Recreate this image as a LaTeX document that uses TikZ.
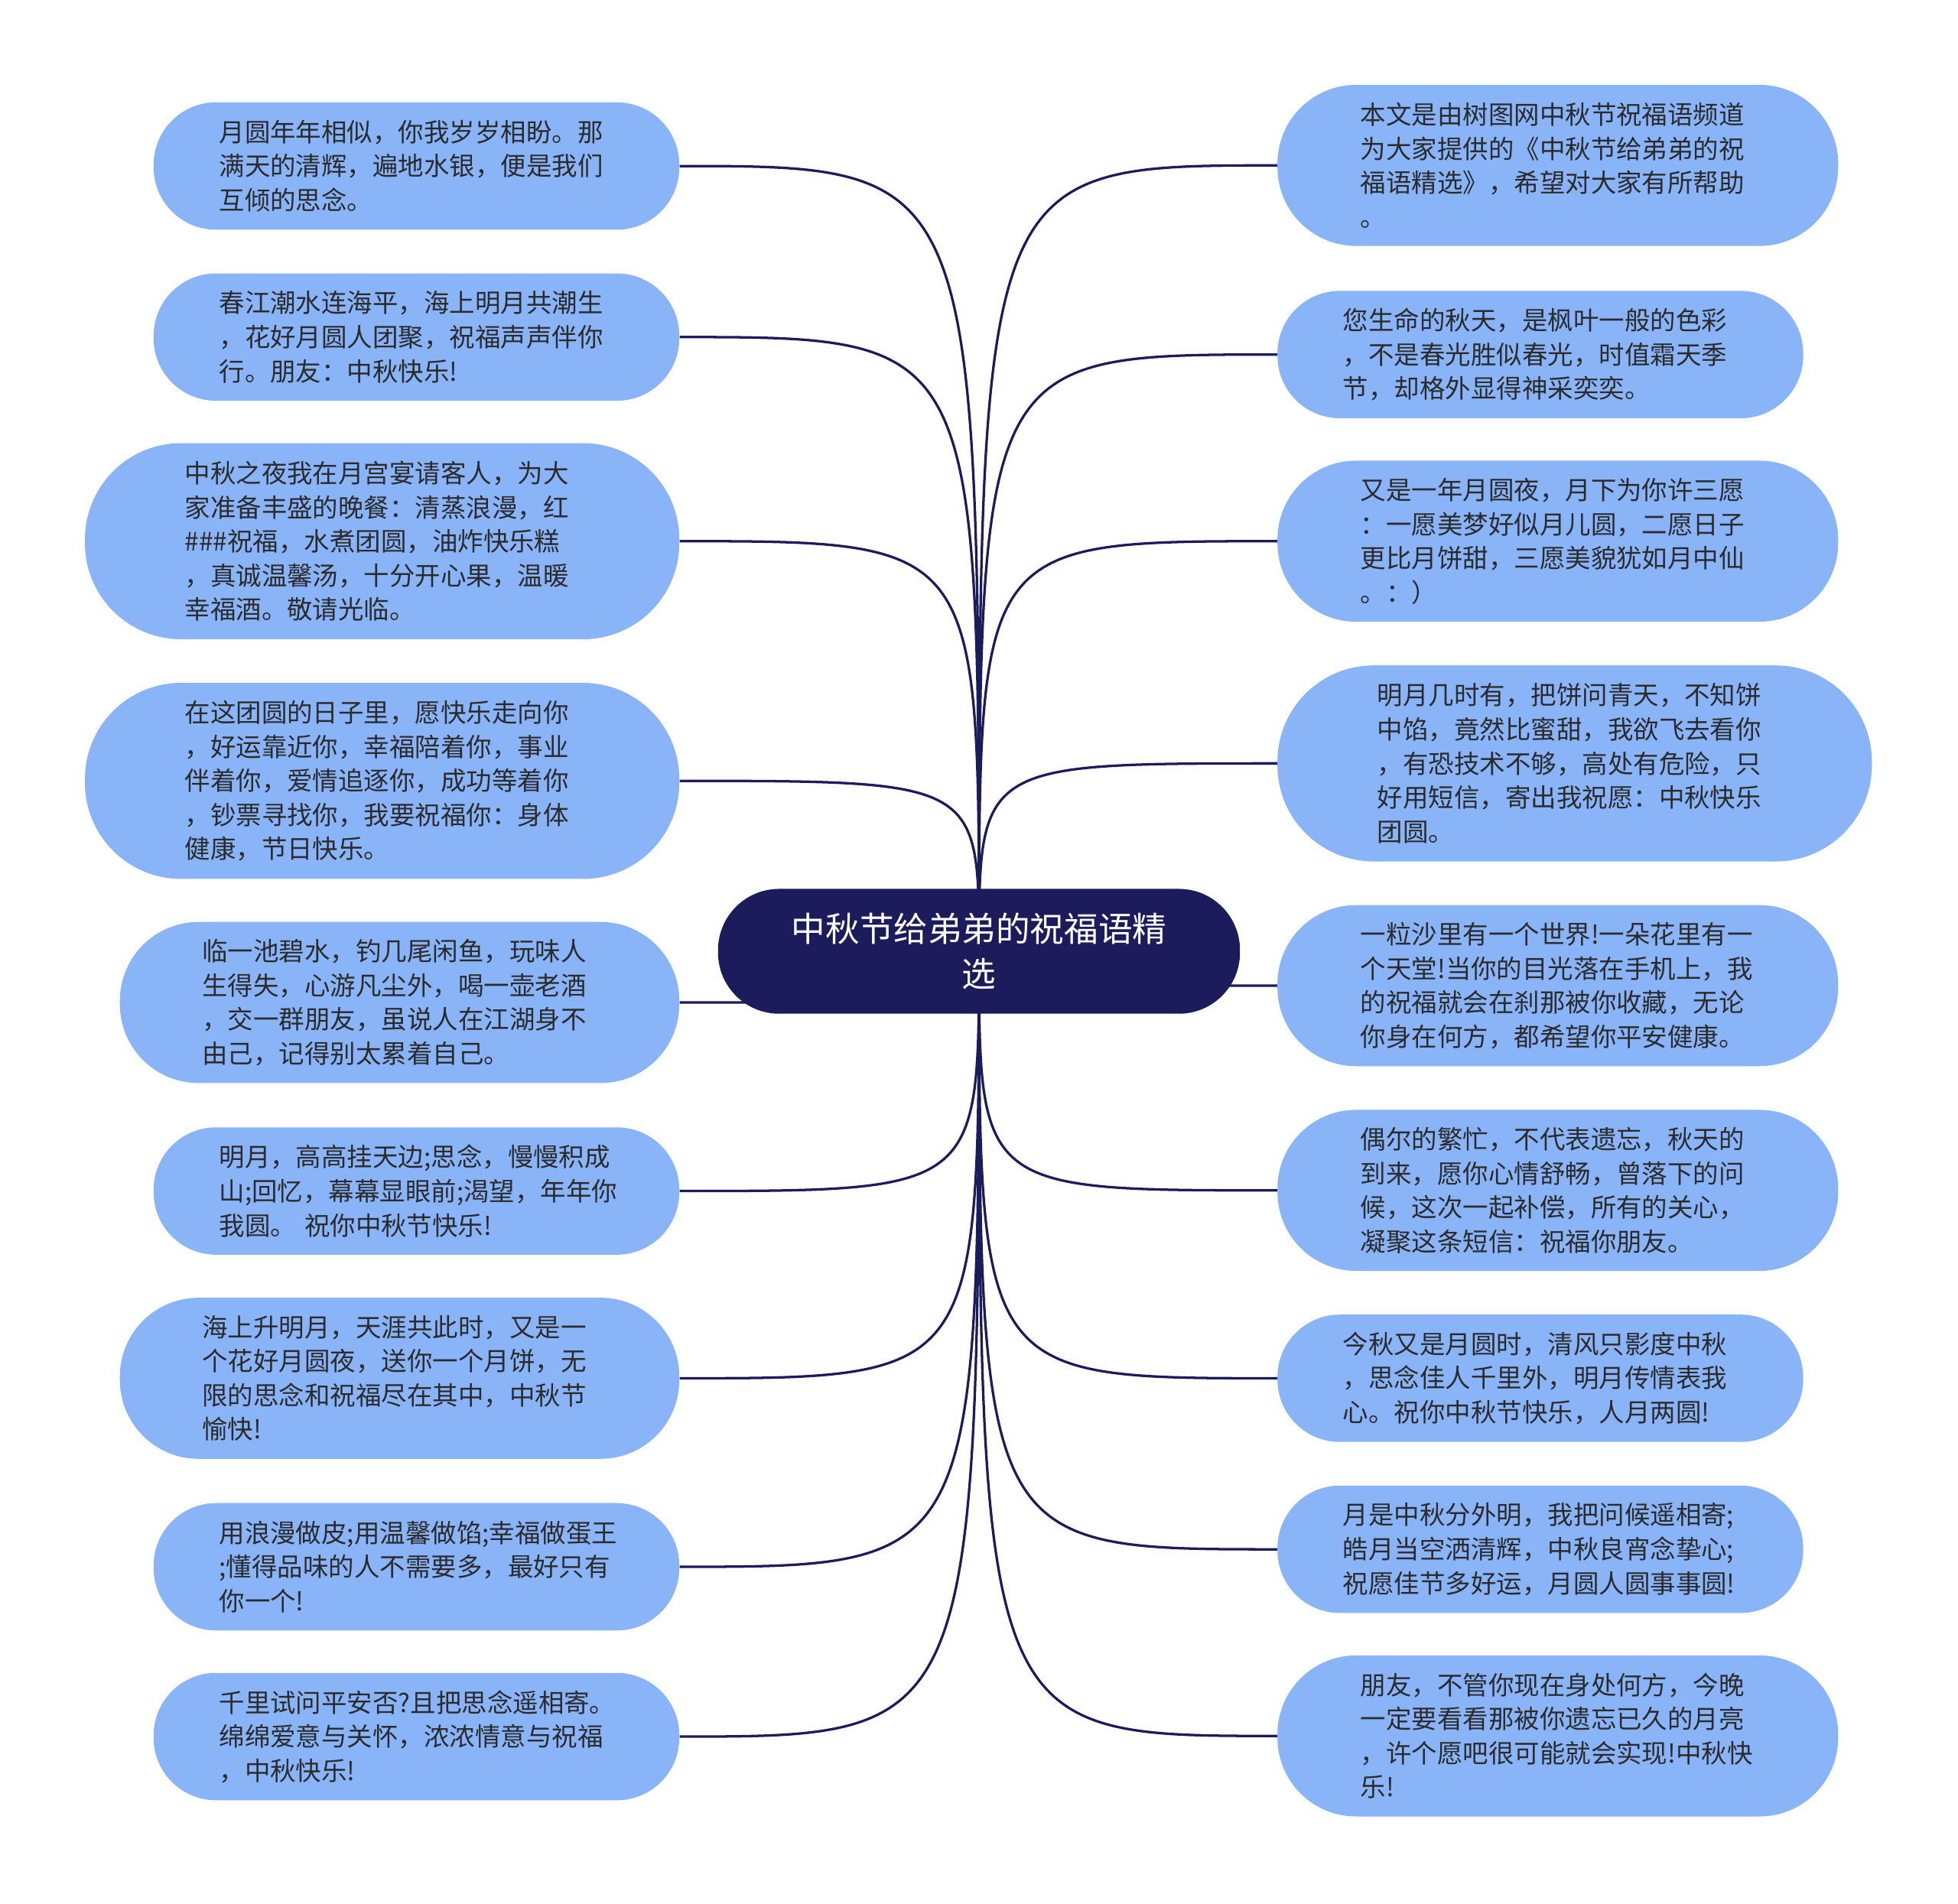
\documentclass[tikz,border=0pt]{standalone}
\usepackage{fontspec}
\setmainfont{Noto Sans CJK SC}
\usetikzlibrary{backgrounds}
\definecolor{leafc}{HTML}{8AB4F8}
\definecolor{navy}{HTML}{1C1B5B}
\definecolor{ink}{HTML}{2B2B2B}
\begin{document}
\begin{tikzpicture}[x=1pt,y=1pt,
  leaf/.style={fill=leafc, text width=316pt, align=left, text=ink, inner sep=0pt,
    font=\fontsize{20.5}{27.3}\selectfont},
  hthree/.style={leaf, minimum height=102pt, rounded corners=50pt},
  hfour/.style={leaf, minimum height=129pt, rounded corners=63pt},
  hfive/.style={leaf, minimum height=157pt, rounded corners=77pt},
  rootbox/.style={fill=navy, text=white, align=center, inner sep=0pt,
    minimum width=418pt, minimum height=100pt, rounded corners=49pt,
    font=\fontsize{27.3}{36}\selectfont},
  conn/.style={draw=navy, line width=2pt}]
\useasboundingbox (0,0) rectangle (1568,-1525);

\node[rootbox] (C) at (784,-762) {中秋节给弟弟的祝福语精\\选};

% left side
\node[hthree, minimum width=421pt] (L1) at (333.5,-133) {月圆年年相似，你我岁岁相盼。那\\满天的清辉，遍地水银，便是我们\\互倾的思念。};
\node[hthree, minimum width=421pt] (L2) at (333.5,-270) {春江潮水连海平，海上明月共潮生\\，花好月圆人团聚，祝福声声伴你\\行。朋友：中秋快乐!};
\node[hfive, minimum width=476pt] (L3) at (306,-433.5) {中秋之夜我在月宫宴请客人，为大\\家准备丰盛的晚餐：清蒸浪漫，红\\\#\#\#祝福，水煮团圆，油炸快乐糕\\，真诚温馨汤，十分开心果，温暖\\幸福酒。敬请光临。};
\node[hfive, minimum width=476pt] (L4) at (306,-625.5) {在这团圆的日子里，愿快乐走向你\\，好运靠近你，幸福陪着你，事业\\伴着你，爱情追逐你，成功等着你\\，钞票寻找你，我要祝福你：身体\\健康，节日快乐。};
\node[hfour, minimum width=448pt] (L5) at (320,-803) {临一池碧水，钓几尾闲鱼，玩味人\\生得失，心游凡尘外，喝一壶老酒\\，交一群朋友，虽说人在江湖身不\\由己，记得别太累着自己。};
\node[hthree, minimum width=421pt] (L6) at (333.5,-954) {明月，高高挂天边;思念，慢慢积成\\山;回忆，幕幕显眼前;渴望，年年你\\我圆。 祝你中秋节快乐!};
\node[hfour, minimum width=448pt] (L7) at (320,-1104) {海上升明月，天涯共此时，又是一\\个花好月圆夜，送你一个月饼，无\\限的思念和祝福尽在其中，中秋节\\愉快!};
\node[hthree, minimum width=421pt] (L8) at (333.5,-1255) {用浪漫做皮;用温馨做馅;幸福做蛋王\\;懂得品味的人不需要多，最好只有\\你一个!};
\node[hthree, minimum width=421pt] (L9) at (333.5,-1391) {千里试问平安否?且把思念遥相寄。\\绵绵爱意与关怀，浓浓情意与祝福\\，中秋快乐!};

% right side
\node[hfour, minimum width=449pt] (R1) at (1247.5,-132.5) {本文是由树图网中秋节祝福语频道\\为大家提供的《中秋节给弟弟的祝\\福语精选》，希望对大家有所帮助\\。};
\node[hthree, minimum width=421pt] (R2) at (1233.5,-284) {您生命的秋天，是枫叶一般的色彩\\，不是春光胜似春光，时值霜天季\\节，却格外显得神采奕奕。};
\node[hfour, minimum width=449pt] (R3) at (1247.5,-433.5) {又是一年月圆夜，月下为你许三愿\\：一愿美梦好似月儿圆，二愿日子\\更比月饼甜，三愿美貌犹如月中仙\\。：）};
\node[hfive, minimum width=476pt] (R4) at (1261,-611.5) {明月几时有，把饼问青天，不知饼\\中馅，竟然比蜜甜，我欲飞去看你\\，有恐技术不够，高处有危险，只\\好用短信，寄出我祝愿：中秋快乐\\团圆。};
\node[hfour, minimum width=449pt] (R5) at (1247.5,-789.5) {一粒沙里有一个世界!一朵花里有一\\个天堂!当你的目光落在手机上，我\\的祝福就会在刹那被你收藏，无论\\你身在何方，都希望你平安健康。};
\node[hfour, minimum width=449pt] (R6) at (1247.5,-953.5) {偶尔的繁忙，不代表遗忘，秋天的\\到来，愿你心情舒畅，曾落下的问\\候，这次一起补偿，所有的关心，\\凝聚这条短信：祝福你朋友。};
\node[hthree, minimum width=421pt] (R7) at (1233.5,-1104) {今秋又是月圆时，清风只影度中秋\\，思念佳人千里外，明月传情表我\\心。祝你中秋节快乐，人月两圆!};
\node[hthree, minimum width=421pt] (R8) at (1233.5,-1241) {月是中秋分外明，我把问候遥相寄;\\皓月当空洒清辉，中秋良宵念挚心;\\祝愿佳节多好运，月圆人圆事事圆!};
\node[hfour, minimum width=449pt] (R9) at (1247.5,-1390.5) {朋友，不管你现在身处何方，今晚\\一定要看看那被你遗忘已久的月亮\\，许个愿吧很可能就会实现!中秋快\\乐!};

\begin{scope}[on background layer]
\fill[white] (0,0) rectangle (1568,-1525);
\foreach \n in {L1,L2,L3,L4,L5,L6,L7,L8,L9}
  \draw[conn] (C.center) .. controls (C.center |- \n.east) .. (\n.east);
\foreach \n in {R1,R2,R3,R4,R5,R6,R7,R8,R9}
  \draw[conn] (C.center) .. controls (C.center |- \n.west) .. (\n.west);
\end{scope}
\end{tikzpicture}
\end{document}
